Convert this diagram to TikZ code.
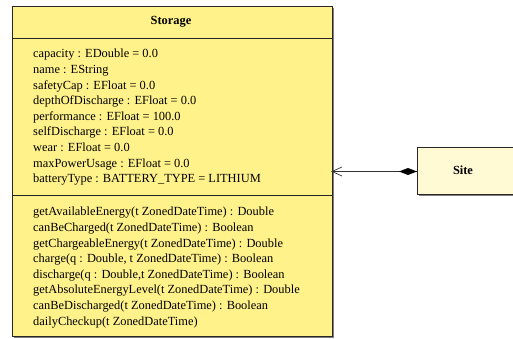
\documentclass[tikz,border=0pt]{standalone}
\usepackage{fontspec}
\setmainfont{Liberation Serif}
\definecolor{storagefill}{HTML}{FFF28A}
\definecolor{sitefill}{HTML}{FFF9D4}
\definecolor{shadowgray}{HTML}{808080}
\begin{document}
\begin{tikzpicture}[x=1pt,y=1pt,
  classbox/.style={draw=black!85,line width=0.9pt,inner sep=0pt,outer sep=0pt},
  member/.style={anchor=base west,inner sep=0pt,font=\fontsize{12.4}{14}\selectfont},
  titletext/.style={inner sep=0pt,font=\bfseries\fontsize{12.4}{14}\selectfont}]
\useasboundingbox (0,0) rectangle (513,339);
\begin{scope}
\clip (0,0) rectangle (513,339);
% shadows
\fill[shadowgray] (14,1) rectangle (334,331);
\fill[shadowgray] (419,143) rectangle (525,190);
% Storage box
\node[classbox,fill=storagefill,minimum width=320pt,minimum height=330pt,anchor=north west] (storage) at (12,333) {};
\draw[black!85,line width=0.9pt] (storage.west |- 0,301) coordinate (t1) -- (storage.east |- 0,301) coordinate (t2);
\draw[black!85,line width=0.9pt] (storage.west |- 0,144) coordinate (s1) -- (storage.east |- 0,144) coordinate (s2);
\node[titletext] (title) at (171,317) {Storage};
% Site box
\node[classbox,fill=sitefill,minimum width=106pt,minimum height=47pt,anchor=north west] (site) at (417,192) {};
\node[titletext] (sitetitle) at (463,168.5) {Site};
\end{scope}
% attributes
\foreach \t [count=\i] in {capacity : EDouble = 0.0, name : EString, safetyCap : EFloat = 0.0, depthOfDischarge : EFloat = 0.0, performance : EFloat = 100.0, selfDischarge : EFloat = 0.0, wear : EFloat = 0.0, maxPowerUsage : EFloat = 0.0, batteryType : BATTERY\_TYPE = LITHIUM}
  \node[member] (a\i) at (33,{281-(\i-1)*15.6}) {\t};
% methods
\foreach \t [count=\i] in {getAvailableEnergy(t ZonedDateTime) : Double, canBeCharged(t ZonedDateTime) : Boolean, getChargeableEnergy(t ZonedDateTime) : Double, {charge(q : Double, t ZonedDateTime) : Boolean}, {discharge(q : Double,t ZonedDateTime) : Boolean}, getAbsoluteEnergyLevel(t ZonedDateTime) : Double, canBeDischarged(t ZonedDateTime) : Boolean, dailyCheckup(t ZonedDateTime)}
  \node[member] (m\i) at (33,{123-(\i-1)*15.6}) {\t};
% connector
\coordinate (siteend) at (site.west |- 0,167.5);
\coordinate (storend) at (storage.east |- 0,167.5);
\draw[line width=0.7pt,black!80] (siteend) -- (storend);
\fill[black] (siteend) -- ++(-9,3.5) -- ++(-9,-3.5) -- ++(9,-3.5) -- cycle;
\draw[line width=0.7pt,black!80] ([xshift=10,yshift=4.5]storend) -- (storend) -- ([xshift=10,yshift=-4.5]storend);
\end{tikzpicture}
\end{document}
